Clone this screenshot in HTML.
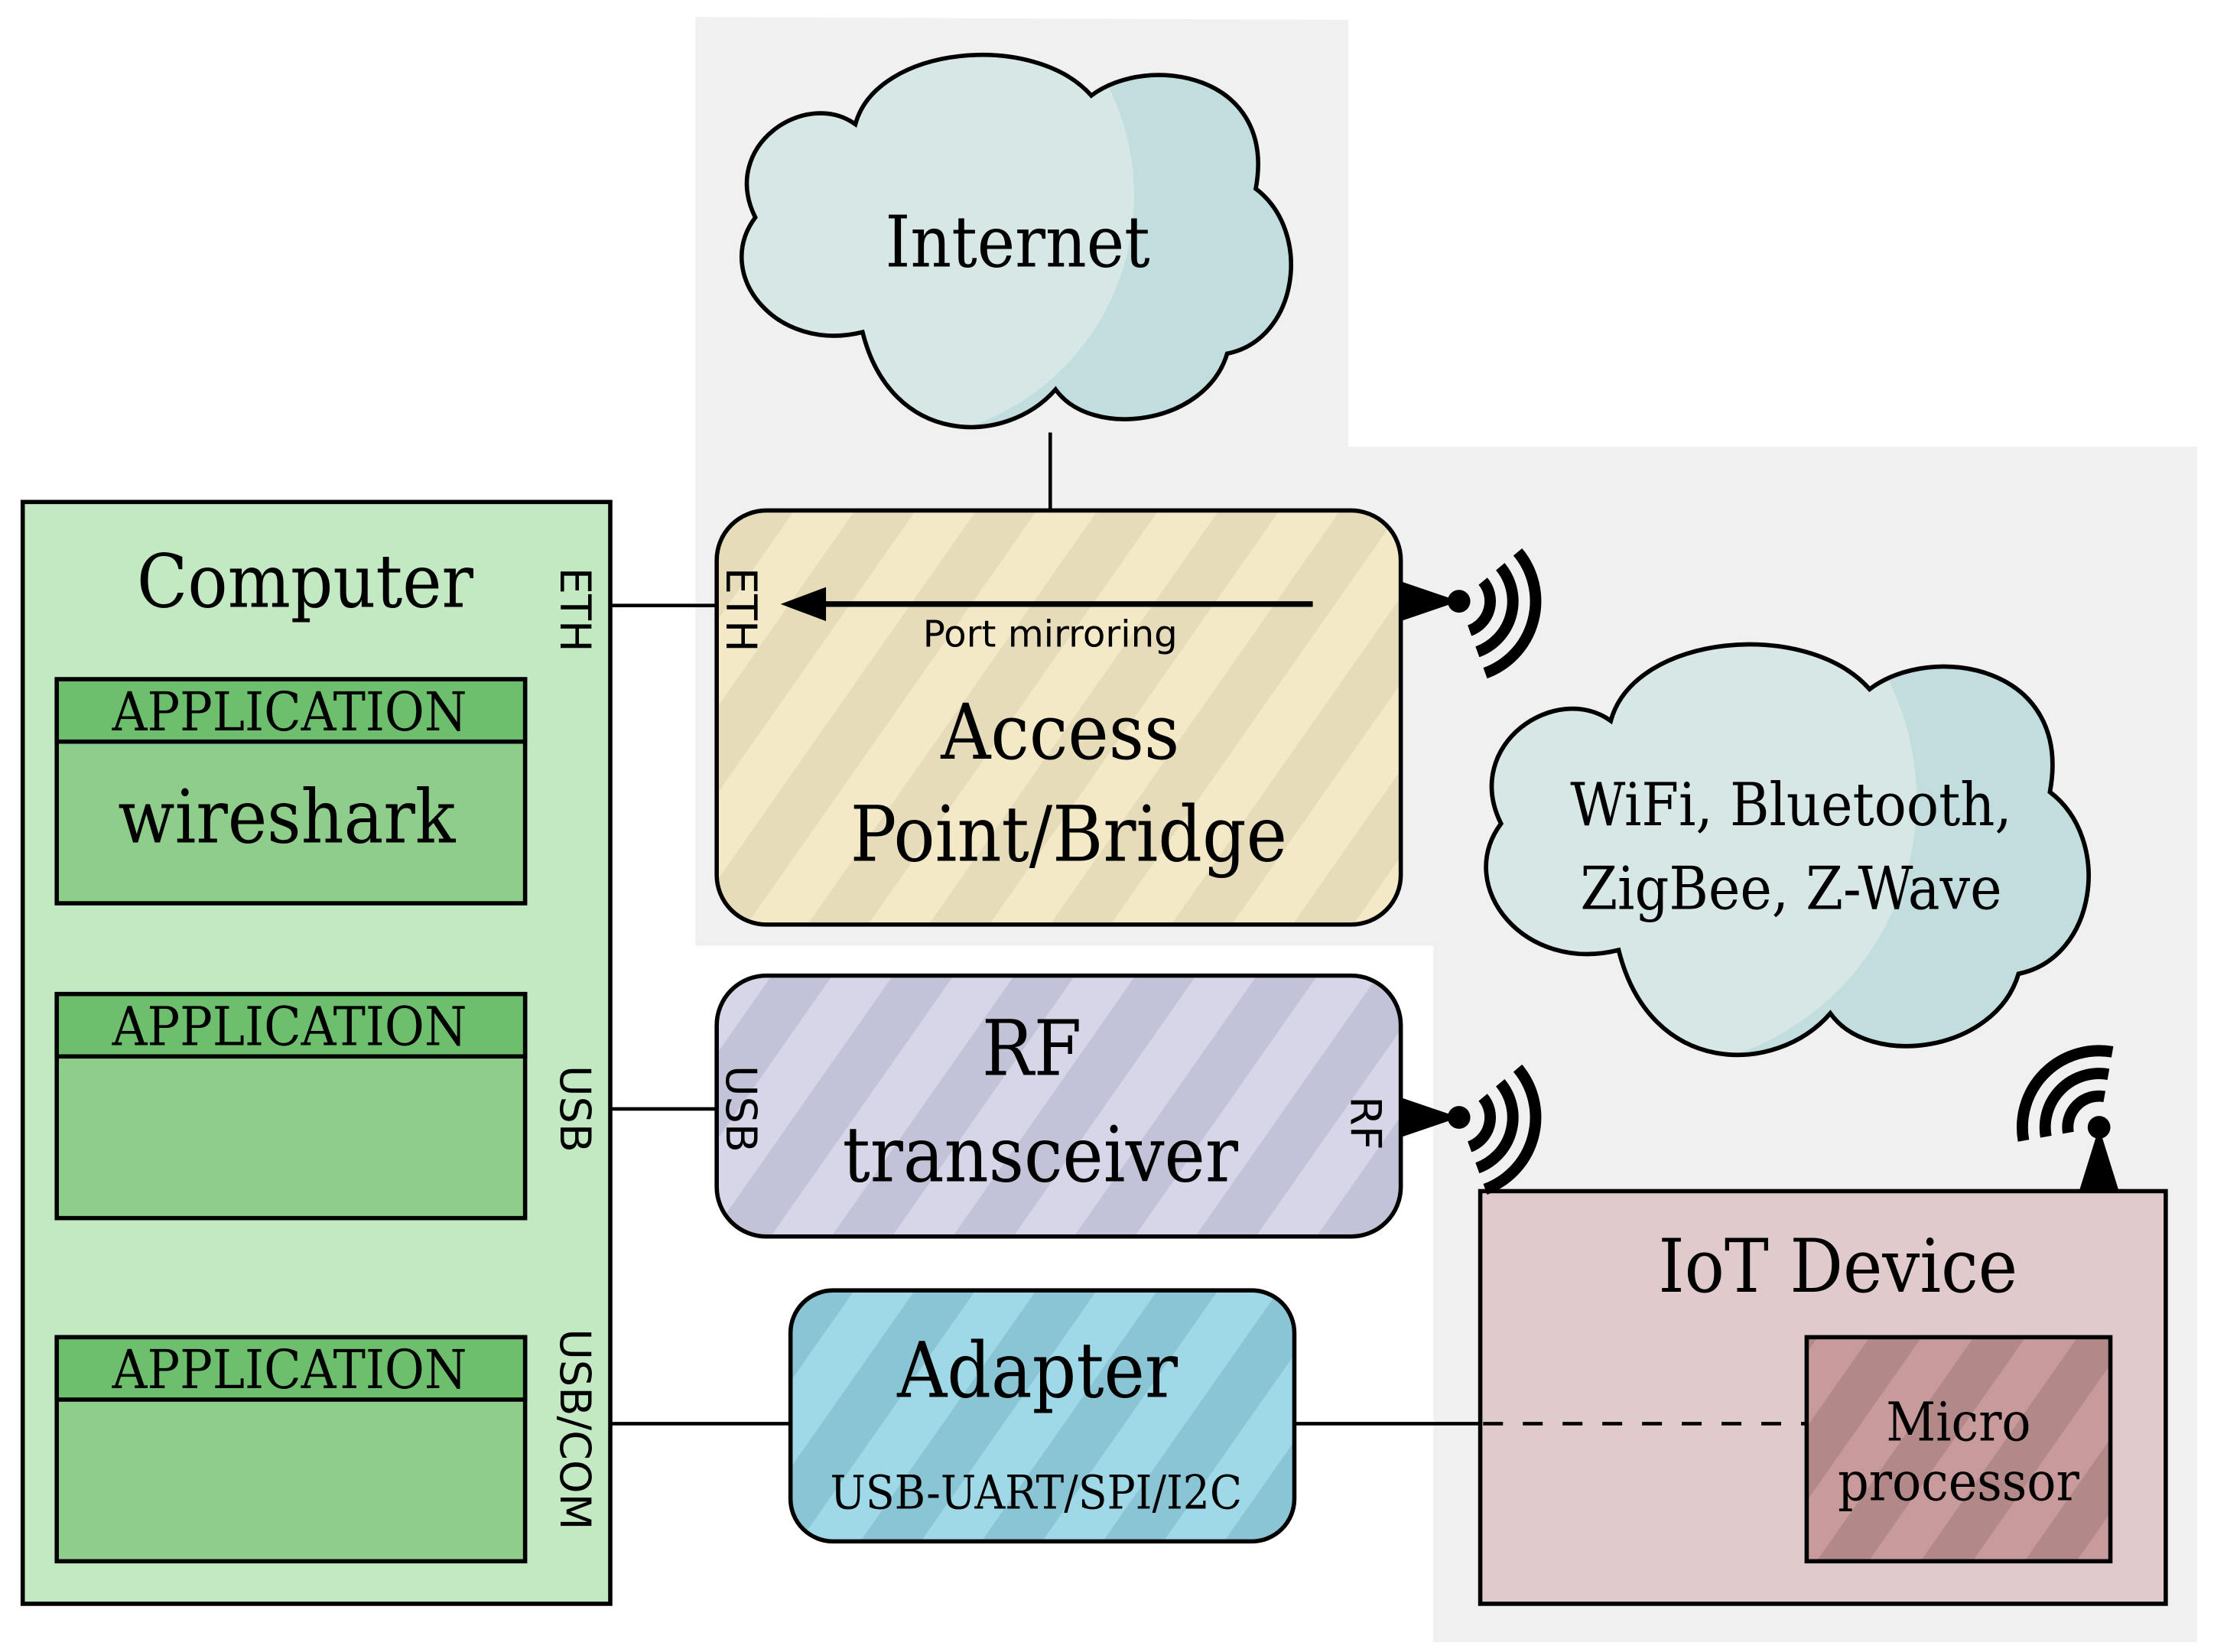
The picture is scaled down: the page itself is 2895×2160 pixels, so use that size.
<!DOCTYPE html>
<html><head><meta charset="utf-8"><style>html,body{margin:0;padding:0;background:#fff}svg{display:block}.s{font-stretch:condensed}</style></head>
<body>
<svg width="2895" height="2160" viewBox="0 0 1560 1165" preserveAspectRatio="none" xmlns="http://www.w3.org/2000/svg">
<defs>
<pattern id="pAP" width="70" height="70" patternUnits="userSpaceOnUse" patternTransform="rotate(35)"><rect width="70" height="70" fill="#f3e9c6"/><rect width="35" height="70" fill="#e6dcb9"/></pattern>
<pattern id="pRF" width="70" height="70" patternUnits="userSpaceOnUse" patternTransform="rotate(35)"><rect width="70" height="70" fill="#d6d6e8"/><rect width="35" height="70" fill="#c2c2d8"/></pattern>
<pattern id="pAD" width="70" height="70" patternUnits="userSpaceOnUse" patternTransform="rotate(35)"><rect width="70" height="70" fill="#9fd8e6"/><rect width="35" height="70" fill="#8ac5d5"/></pattern>
<pattern id="pMP" width="60" height="60" patternUnits="userSpaceOnUse" patternTransform="rotate(35)"><rect width="60" height="60" fill="#c99a9c"/><rect width="30" height="60" fill="#b38889"/></pattern>
<path id="cloud" d="M 100 200 C 40 215, -5 160, 25 120 C 0 70, 60 30, 95 55 C 110 0, 220 -10, 260 35 C 300 5, 390 20, 375 100 C 415 130, 405 205, 355 215 C 340 265, 260 275, 235 240 C 200 280, 120 280, 100 200 Z"/>
<clipPath id="cc"><use href="#cloud"/></clipPath>
</defs>
<rect width="1560" height="1165" fill="#fff"/>
<polygon points="490,12 950,14 950,315 1548,315 1548,1158 1010,1158 1010,667 490,667" fill="#f0f0f0"/>

<g transform="translate(507,32) scale(1.0075,1.011)">
<use href="#cloud" fill="#c2dddd"/>
<circle cx="120" cy="105" r="170" fill="#d6e7e6" clip-path="url(#cc)"/>
<use href="#cloud" fill="none" stroke="#000" stroke-width="3"/>
</g>
<g class="s" font-family="DejaVu Serif, Liberation Serif, serif">
<text x="717" y="188" font-size="50" text-anchor="middle">Internet</text>
</g>
<line x1="740" y1="305" x2="740" y2="360" stroke="#000" stroke-width="2.5"/>

<g transform="translate(1030,447) scale(1.105,1.115)">
<use href="#cloud" fill="#c2dddd"/>
<circle cx="120" cy="105" r="170" fill="#d6e7e6" clip-path="url(#cc)"/>
<use href="#cloud" fill="none" stroke="#000" stroke-width="2.8"/>
</g>
<g class="s" font-family="DejaVu Serif, Liberation Serif, serif" font-size="42" text-anchor="middle">
<text x="1262" y="582">WiFi, Bluetooth,</text>
<text x="1262" y="641">ZigBee, Z-Wave</text>
</g>

<rect x="16" y="354" width="414" height="777" fill="#c2e9c2" stroke="#000" stroke-width="3"/>
<g class="s" font-family="DejaVu Serif, Liberation Serif, serif" font-size="38" text-anchor="middle">
<text x="215" y="428" font-size="52">Computer</text>
<rect x="40" y="479" width="330" height="158" fill="#8fcd8b" stroke="#000" stroke-width="3"/>
<rect x="40" y="479" width="330" height="44" fill="#6dbf6d" stroke="#000" stroke-width="3"/>
<text x="204" y="515">APPLICATION</text>
<text x="202" y="594" font-size="52">wireshark</text>
<rect x="40" y="701" width="330" height="158" fill="#8fcd8b" stroke="#000" stroke-width="3"/>
<rect x="40" y="701" width="330" height="44" fill="#6dbf6d" stroke="#000" stroke-width="3"/>
<text x="204" y="737">APPLICATION</text>
<rect x="40" y="943" width="330" height="158" fill="#8fcd8b" stroke="#000" stroke-width="3"/>
<rect x="40" y="943" width="330" height="44" fill="#6dbf6d" stroke="#000" stroke-width="3"/>
<text x="204" y="979">APPLICATION</text>
</g>
<g font-family="DejaVu Sans, Liberation Sans, sans-serif" font-size="30">
<text transform="translate(395,430) rotate(90)" text-anchor="middle">ETH</text>
<text transform="translate(395,782) rotate(90)" text-anchor="middle">USB</text>
<text transform="translate(395,1008) rotate(90)" text-anchor="middle">USB/COM</text>
</g>
<line x1="430" y1="427" x2="505" y2="427" stroke="#000" stroke-width="2.5"/>
<line x1="430" y1="782" x2="505" y2="782" stroke="#000" stroke-width="2.5"/>
<line x1="430" y1="1004" x2="557" y2="1004" stroke="#000" stroke-width="2.5"/>

<rect x="505" y="360" width="482" height="292" rx="35" fill="url(#pAP)" stroke="#000" stroke-width="3"/>
<line x1="925" y1="426" x2="575" y2="426" stroke="#000" stroke-width="4"/>
<polygon points="550,426 582,414 582,438" fill="#000"/>
<text x="740" y="456" font-family="DejaVu Sans, Liberation Sans, sans-serif" font-size="26" text-anchor="middle">Port mirroring</text>
<g class="s" font-family="DejaVu Serif, Liberation Serif, serif" font-size="54" text-anchor="middle">
<text x="747" y="535">Access</text>
<text x="753" y="607">Point/Bridge</text>
</g>
<text transform="translate(512,430) rotate(90)" font-family="DejaVu Sans, Liberation Sans, sans-serif" font-size="30" text-anchor="middle">ETH</text>

<rect x="505" y="688" width="482" height="184" rx="35" fill="url(#pRF)" stroke="#000" stroke-width="3"/>
<g class="s" font-family="DejaVu Serif, Liberation Serif, serif" font-size="54" text-anchor="middle">
<text x="727" y="758">RF</text>
<text x="733" y="833">transceiver</text>
</g>
<g font-family="DejaVu Sans, Liberation Sans, sans-serif" font-size="30" text-anchor="middle">
<text transform="translate(512,782) rotate(90)">USB</text>
<text transform="translate(952,792) rotate(90)">RF</text>
</g>

<rect x="557" y="910" width="355" height="177" rx="30" fill="url(#pAD)" stroke="#000" stroke-width="3"/>
<g class="s" font-family="DejaVu Serif, Liberation Serif, serif" text-anchor="middle">
<text x="731" y="985" font-size="54">Adapter</text>
<text x="730" y="1064" font-size="33">USB-UART/SPI/I2C</text>
</g>
<line x1="912" y1="1004" x2="1045" y2="1004" stroke="#000" stroke-width="2.5"/>

<rect x="1043" y="840" width="483" height="291" fill="#e0cacb" stroke="#000" stroke-width="3"/>
<line x1="1045" y1="1004" x2="1273" y2="1004" stroke="#000" stroke-width="2.5" stroke-dasharray="14,14"/>
<rect x="1273" y="943" width="214" height="158" fill="url(#pMP)" stroke="#000" stroke-width="3"/>
<g class="s" font-family="DejaVu Serif, Liberation Serif, serif" font-size="38" text-anchor="middle">
<text x="1295" y="911" font-size="52">IoT Device</text>
<text x="1380" y="1016">Micro</text>
<text x="1380" y="1058">processor</text>
</g>

<g fill="none" stroke="#000" stroke-width="8">
<path d="M1044.9,409.9 A22 22 0 0 1 1035.5,444.7 M1057.1,399.6 A38 38 0 0 1 1041,459.7 M1069.4,389.3 A54 54 0 0 1 1046.5,474.7"/>
<path d="M1044.9,773.9 A22 22 0 0 1 1035.5,808.7 M1057.1,763.6 A38 38 0 0 1 1041,823.7 M1069.4,753.3 A54 54 0 0 1 1046.5,838.7"/>
<path d="M1457.3,798.8 A22 22 0 0 1 1482.8,773.3 M1441.6,801.6 A38 38 0 0 1 1485.6,757.6 M1425.8,804.4 A54 54 0 0 1 1488.4,741.8"/>
</g>
<polygon points="987,410 987,438 1028,424" fill="#000"/>
<circle cx="1028" cy="424" r="8" fill="#000"/>
<polygon points="987,774 987,802 1028,788" fill="#000"/>
<circle cx="1028" cy="788" r="8" fill="#000"/>
<polygon points="1465,840 1493,840 1479,795" fill="#000"/>
<circle cx="1479" cy="795" r="8" fill="#000"/>
</svg>
</body></html>
